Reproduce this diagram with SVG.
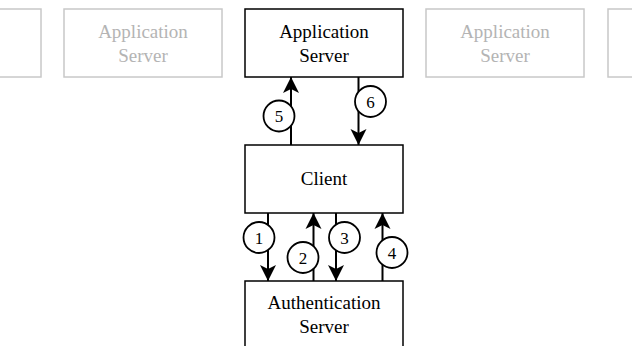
<svg xmlns="http://www.w3.org/2000/svg" width="632" height="346" viewBox="0 0 632 346">
<style>
.box{fill:#fff;stroke:#000;stroke-width:1.5}
.gbox{fill:#fff;stroke:#c8c8c8;stroke-width:1.5}
.t{font-family:"Liberation Serif","Times New Roman",serif;font-size:19px;text-anchor:middle;fill:#000}
.gt{font-family:"Liberation Serif","Times New Roman",serif;font-size:19px;text-anchor:middle;fill:#b4b4b4}
.ln{stroke:#000;stroke-width:2;fill:none;marker-end:url(#ah)}
.c{fill:#fff;stroke:#000;stroke-width:1.8}
.n{font-family:"Liberation Serif","Times New Roman",serif;font-size:17px;text-anchor:middle;fill:#000}
</style>
<defs>
<marker id="ah" markerUnits="userSpaceOnUse" markerWidth="18" markerHeight="18" viewBox="0 -9 18 18" refX="16" refY="0" orient="auto">
<path d="M0,-8 L16,0 L0,8 L4,0 Z" fill="#000"/>
</marker>
</defs>
<g id="appserver-left-edge">
<rect class="gbox" x="-117" y="9" width="158" height="68"/>
</g>
<g id="appserver-left">
<rect class="gbox" x="64" y="9" width="158" height="68"/>
<text class="gt" x="143" y="38">Application</text>
<text class="gt" x="143" y="62">Server</text>
</g>
<g id="appserver-main">
<rect class="box" x="245" y="9" width="158" height="68"/>
<text class="t" x="324" y="38">Application</text>
<text class="t" x="324" y="62">Server</text>
</g>
<g id="appserver-right">
<rect class="gbox" x="426" y="9" width="158" height="68"/>
<text class="gt" x="505" y="38">Application</text>
<text class="gt" x="505" y="62">Server</text>
</g>
<g id="appserver-right-edge">
<rect class="gbox" x="608" y="9" width="158" height="68"/>
</g>
<g id="client">
<rect class="box" x="245" y="145" width="158" height="68"/>
<text class="t" x="324" y="185">Client</text>
</g>
<g id="authserver">
<rect class="box" x="245" y="281" width="158" height="68"/>
<text class="t" x="324" y="309">Authentication</text>
<text class="t" x="324" y="333">Server</text>
</g>
<g id="connectors">
<line class="ln" x1="291" y1="145" x2="291" y2="77"/>
<line class="ln" x1="358.5" y1="77" x2="358.5" y2="145"/>
<line class="ln" x1="268" y1="213" x2="268" y2="281"/>
<line class="ln" x1="313.5" y1="281" x2="313.5" y2="213"/>
<line class="ln" x1="336" y1="213" x2="336" y2="281"/>
<line class="ln" x1="382.5" y1="281" x2="382.5" y2="213"/>
<circle class="c" cx="279" cy="116" r="15.5"/>
<text class="n" x="279" y="122">5</text>
<circle class="c" cx="370.5" cy="101.5" r="15.5"/>
<text class="n" x="370.5" y="107.5">6</text>
<circle class="c" cx="259" cy="237.5" r="15.5"/>
<text class="n" x="259" y="243.5">1</text>
<circle class="c" cx="303" cy="257.5" r="15.5"/>
<text class="n" x="303" y="263.5">2</text>
<circle class="c" cx="344.5" cy="237.5" r="15.5"/>
<text class="n" x="344.5" y="243.5">3</text>
<circle class="c" cx="392" cy="252.5" r="15.5"/>
<text class="n" x="392" y="258.5">4</text>
</g>
</svg>
